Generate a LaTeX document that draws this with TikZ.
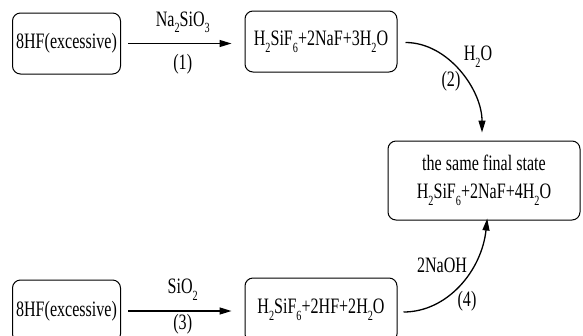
\documentclass[tikz,border=0pt]{standalone}
\usepackage{fontspec}
\setmainfont{Liberation Serif}[FakeStretch=0.73]
\usetikzlibrary{arrows.meta}
\newcommand\chs[1]{\raisebox{-0.3em}{\fontsize{14}{14}\selectfont #1}}
\tikzset{
  box/.style={draw, line width=1pt, rounded corners=8pt, inner sep=0pt, align=center},
  lbl/.style={inner sep=0pt},
  conn/.style={line width=1.3pt, -{Triangle[length=12pt,width=7pt]}},
}
\begin{document}
\begin{tikzpicture}[x=1pt,y=-1pt,font=\fontsize{22}{28}\selectfont]
\useasboundingbox (0,0) rectangle (583,335);
\clip (0,0) rectangle (583,335);
% boxes
\node[box, minimum width=108pt, minimum height=61pt] (b1) at (66.5,43.5) {8HF(excessive)};
\node[box, minimum width=152pt, minimum height=61pt] (b2) at (321,41.5) {H\chs{2}SiF\chs{6}+2NaF+3H\chs{2}O};
\node[box, minimum width=192pt, minimum height=79pt] (b3) at (484,180.5) {the same final state\\H\chs{2}SiF\chs{6}+2NaF+4H\chs{2}O};
\node[box, minimum width=108pt, minimum height=62pt] (b4) at (66.5,311) {8HF(excessive)};
\node[box, minimum width=152pt, minimum height=64pt] (b5) at (321,310) {H\chs{2}SiF\chs{6}+2HF+2H\chs{2}O};
% straight arrows
\draw[conn, shorten <=7pt, shorten >=13pt] (b1.east) -- (b2.west |- b1.east)
  node[lbl, midway, above=10pt] (l1) {Na\chs{2}SiO\chs{3}}
  node[lbl, midway, below=10pt] (n1) {(1)};
\draw[conn, shorten <=7pt, shorten >=13pt] (b4.east) -- (b5.west |- b4.east)
  node[lbl, midway, above=10pt] (l3) {SiO\chs{2}}
  node[lbl, midway, below=2.5pt] (n3) {(3)};
% curved arrows
\draw[conn, shorten <=8pt, shorten >=8pt] ([yshift=-1pt]b2.east) to[out=0,in=90] ([xshift=-2pt]b3.north);
\node[lbl] (l2) at (478,57) {H\chs{2}O};
\node[lbl] (n2) at (451,81) {(2)};
\draw[conn, shorten <=6pt, shorten >=-2pt] ([yshift=-2pt]b5.east) to[out=0,in=-96] ([xshift=3pt]b3.south);
\node[lbl] (l4) at (442,265) {2NaOH};
\node[lbl] (n4) at (467,301) {(4)};
\end{tikzpicture}
\end{document}
